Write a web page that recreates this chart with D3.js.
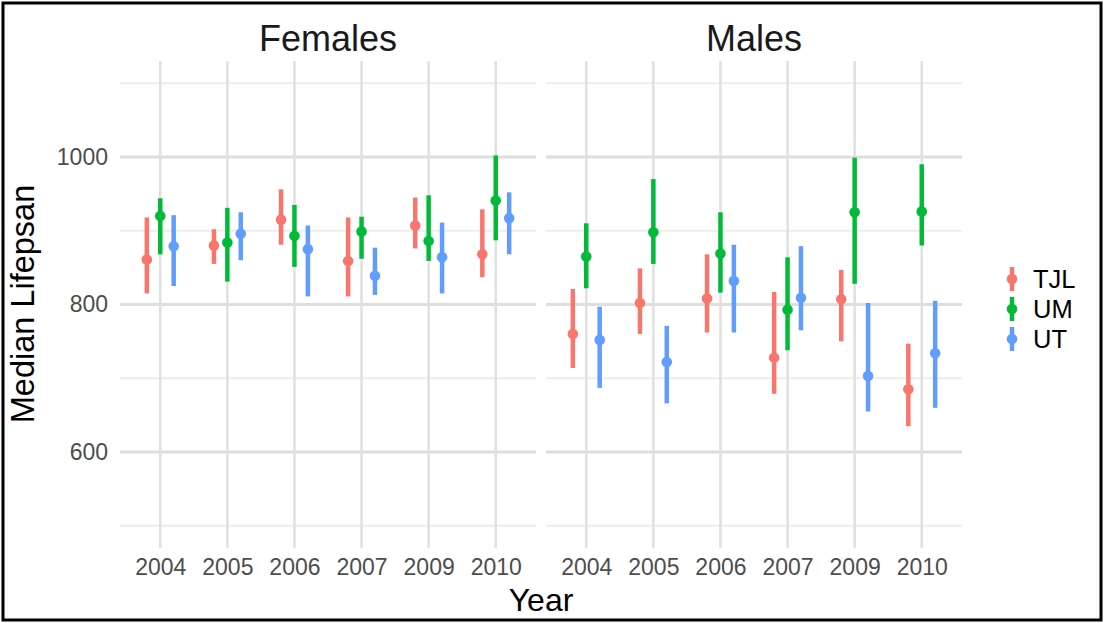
<!DOCTYPE html>
<html>
<head>
<meta charset="utf-8">
<script src="https://cdn.jsdelivr.net/npm/d3@7"></script>
<style>
  html, body { margin: 0; padding: 0; background: #ffffff; }
  svg { display: block; font-family: "Liberation Sans", Arial, Helvetica, sans-serif; }
</style>
</head>
<body>
<svg id="chart" width="1104" height="623"></svg>
<script>
// ---------- data ----------
const years = ["2004", "2005", "2006", "2007", "2009", "2010"];
const groups = ["TJL", "UM", "UT"];
const panels = ["Females", "Males"];
const colors = ["#F8766D", "#00BA38", "#619CFF"];
const yTicks = [600, 800, 1000];
const yMinor = [500, 700, 900, 1100];

// Females
const femTJLmid = [861, 880, 915, 859, 907, 868];
const femTJLlo  = [815, 855, 881, 811, 876, 837];
const femTJLhi  = [918, 902, 956, 918, 945, 929];
const femUMmid  = [920, 884, 893, 899, 886, 941];
const femUMlo   = [868, 831, 851, 862, 859, 887];
const femUMhi   = [944, 931, 935, 919, 948, 1002];
const femUTmid  = [879, 896, 875, 839, 864, 917];
const femUTlo   = [825, 860, 811, 813, 815, 868];
const femUThi   = [921, 925, 907, 877, 911, 952];

// Males
const malTJLmid = [760, 802, 808, 728, 807, 685];
const malTJLlo  = [714, 760, 762, 679, 750, 635];
const malTJLhi  = [821, 849, 868, 817, 847, 747];
const malUMmid  = [865, 898, 869, 793, 925, 926];
const malUMlo   = [822, 855, 816, 738, 828, 880];
const malUMhi   = [910, 970, 925, 864, 999, 990];
const malUTmid  = [752, 722, 832, 809, 703, 734];
const malUTlo   = [687, 666, 762, 765, 655, 660];
const malUThi   = [797, 771, 881, 879, 802, 805];

const panelData = [
  [[femTJLmid, femTJLlo, femTJLhi], [femUMmid, femUMlo, femUMhi], [femUTmid, femUTlo, femUThi]],
  [[malTJLmid, malTJLlo, malTJLhi], [malUMmid, malUMlo, malUMhi], [malUTmid, malUTlo, malUThi]]
];

// ---------- layout ----------
const svg = d3.select("#chart");
const panelTop = 61, panelBottom = 548;
const panelX = [[120, 536], [546, 962]];

const y = d3.scaleLinear().domain([470, 1130]).range([panelBottom, panelTop]);

// frame
svg.append("rect").attr("x", 3).attr("y", 3).attr("width", 1098).attr("height", 617)
  .attr("fill", "none").attr("stroke", "#000").attr("stroke-width", 3);

panels.forEach((pname, pi) => {
  const [x0, x1] = panelX[pi];
  const x = d3.scalePoint().domain(years).range([x0, x1]).padding(0.6);
  const step = x.step();
  const dodge = d3.scalePoint().domain(groups).range([-0.2 * step, 0.2 * step]);
  const g = svg.append("g");

  // minor horizontal grid
  g.selectAll("line.minor").data(yMinor).enter().append("line")
    .attr("x1", x0).attr("x2", x1)
    .attr("y1", d => y(d)).attr("y2", d => y(d))
    .attr("stroke", "#ededed").attr("stroke-width", 2);
  // major horizontal grid
  g.selectAll("line.major").data(yTicks).enter().append("line")
    .attr("x1", x0).attr("x2", x1)
    .attr("y1", d => y(d)).attr("y2", d => y(d))
    .attr("stroke", "#dedede").attr("stroke-width", 3);
  // vertical grid
  g.selectAll("line.vgrid").data(years).enter().append("line")
    .attr("x1", d => x(d)).attr("x2", d => x(d))
    .attr("y1", panelTop).attr("y2", panelBottom)
    .attr("stroke", "#e0e0e0").attr("stroke-width", 2.5);

  // x axis labels
  const xa = g.append("g").attr("transform", `translate(0,${panelBottom})`)
    .call(d3.axisBottom(x).tickSize(0).tickPadding(10.5));
  xa.select(".domain").remove();
  xa.selectAll("text").attr("font-size", 23).attr("fill", "#4d4d4d")
    .attr("font-family", "'Liberation Sans', Arial, sans-serif");

  if (pi === 0) {
    const ya = g.append("g").attr("transform", `translate(${x0},0)`)
      .call(d3.axisLeft(y).tickValues(yTicks).tickFormat(d3.format("d")).tickSize(0).tickPadding(12));
    ya.select(".domain").remove();
    ya.selectAll("text").attr("font-size", 23).attr("fill", "#4d4d4d")
      .attr("font-family", "'Liberation Sans', Arial, sans-serif");
  }

  // panel title
  g.append("text").attr("x", (x0 + x1) / 2).attr("y", 51)
    .attr("text-anchor", "middle").attr("font-size", 36).attr("fill", "#1a1a1a")
    .text(pname);

  // error bars & points
  groups.forEach((grp, gi) => {
    const [mid, lo, hi] = panelData[pi][gi];
    const rows = years.map((yr, i) => ({ yr, mid: mid[i], lo: lo[i], hi: hi[i] }));
    const sg = g.append("g");
    sg.selectAll("line").data(rows).enter().append("line")
      .attr("x1", d => x(d.yr) + dodge(grp)).attr("x2", d => x(d.yr) + dodge(grp))
      .attr("y1", d => y(d.lo)).attr("y2", d => y(d.hi))
      .attr("stroke", colors[gi]).attr("stroke-width", 4.5);
    sg.selectAll("circle").data(rows).enter().append("circle")
      .attr("cx", d => x(d.yr) + dodge(grp)).attr("cy", d => y(d.mid))
      .attr("r", 5.3).attr("fill", colors[gi]);
  });
});

// axis titles
svg.append("text").attr("x", 541).attr("y", 611).attr("text-anchor", "middle")
  .attr("font-size", 32).attr("fill", "#000").text("Year");
svg.append("text").attr("transform", "translate(34,304) rotate(-90)")
  .attr("text-anchor", "middle").attr("font-size", 32.5).attr("fill", "#000")
  .text("Median Lifepsan");

// legend
const legY = d3.scalePoint().domain(groups).range([279, 339]);
const leg = svg.append("g");
groups.forEach((grp, gi) => {
  const cy = legY(grp);
  leg.append("line").attr("x1", 1012).attr("x2", 1012)
    .attr("y1", cy - 12).attr("y2", cy + 12)
    .attr("stroke", colors[gi]).attr("stroke-width", 4.5);
  leg.append("circle").attr("cx", 1012).attr("cy", cy).attr("r", 5.3).attr("fill", colors[gi]);
  leg.append("text").attr("x", 1033).attr("y", cy + 9)
    .attr("font-size", 25.5).attr("fill", "#000").text(grp);
});
</script>
</body>
</html>
